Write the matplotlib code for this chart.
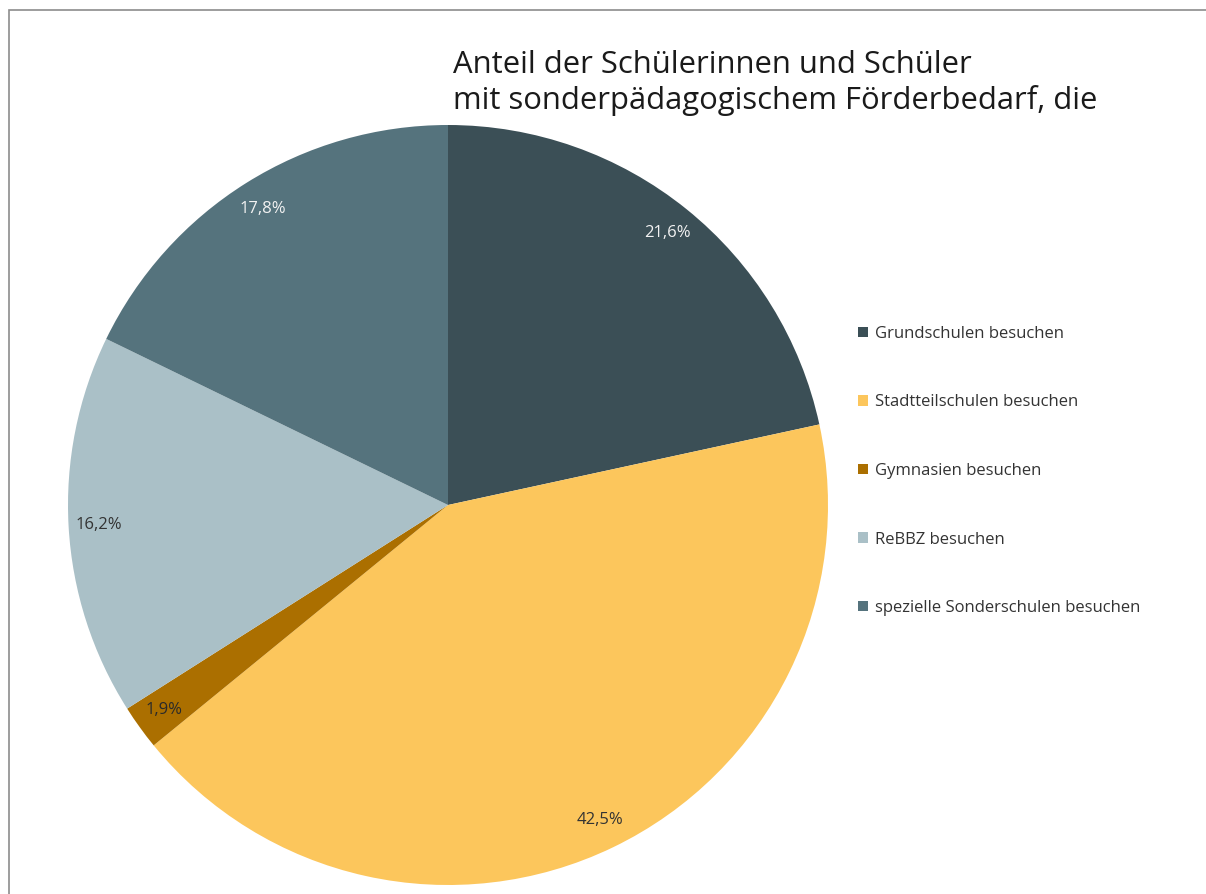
import matplotlib.pyplot as plt
from matplotlib.patches import Rectangle, Patch

plt.rcParams['font.family'] = ['Open Sans', 'DejaVu Sans']

categories = ['Grundschulen besuchen', 'Stadtteilschulen besuchen', 'Gymnasien besuchen',
              'ReBBZ besuchen', 'spezielle Sonderschulen besuchen']
shares = [21.6, 42.5, 1.9, 16.2, 17.8]
colors = ['#3b4f56', '#fcc65c', '#ab6f00', '#aac0c7', '#55737d']
label_colors = ['#f2f2f2', '#333333', '#2a2a2a', '#333333', '#f2f2f2']
title = 'Anteil der Schülerinnen und Schüler\nmit sonderpädagogischem Förderbedarf, die'

W, H = 1206, 894
fig = plt.figure(figsize=(W / 100, H / 100), dpi=100)

# pie centre (448, 505) px, radius 380 px
cx, cy, r = 448, 505, 380
m = 1.05
ax = fig.add_axes([(cx - r * m) / W, (H - cy - r * m) / H, 2 * r * m / W, 2 * r * m / H])
wedges, texts = ax.pie(shares, colors=colors, startangle=90, counterclock=False,
                       labels=[f'{v:.1f}%'.replace('.', ',') for v in shares],
                       labeldistance=0.92, wedgeprops=dict(linewidth=0),
                       textprops=dict(fontsize=12))
for t, c in zip(texts, label_colors):
    t.set_color(c)
    t.set_ha('center')
ax.set_xlim(-m, m)
ax.set_ylim(-m, m)

fig.text(453 / W, 1 - 50 / H, title, fontsize=22.3, color='#1a1a1a', va='top', ha='left',
         linespacing=1.2)

handles = [Patch(facecolor=c) for c in colors]
fig.legend(handles, categories, loc='upper left', bbox_to_anchor=(843 / W, 1 - 311 / H),
           frameon=False, fontsize=12, handlelength=0.6, handleheight=0.6,
           handletextpad=0.4, labelspacing=3.15, labelcolor='#333333')

# border of the chart area
fig.add_artist(Rectangle((9 / W, -0.1), 1.2, 1 - 10 / H + 0.1, transform=fig.transFigure,
                         fill=False, edgecolor='#8c8c8c', linewidth=1.2))

fig.savefig('out.png', dpi=100, facecolor='white')
